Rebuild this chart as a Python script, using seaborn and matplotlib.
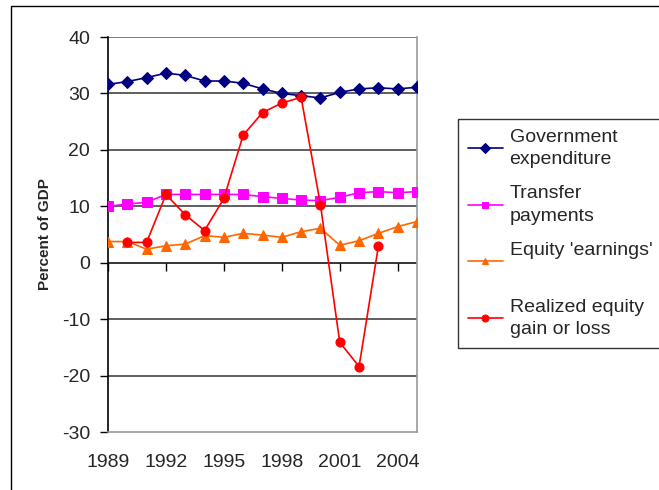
import numpy as np
import pandas as pd
import matplotlib
matplotlib.use("Agg")
import matplotlib.pyplot as plt
import seaborn as sns
from matplotlib.patches import Rectangle

years = list(range(1989, 2006))
gov_exp = [31.6, 32.1, 32.8, 33.6, 33.2, 32.2, 32.2, 31.8, 30.8, 30.0, 29.6, 29.2, 30.2, 30.8, 31.0, 30.8, 31.1]
transfers = [10.0, 10.4, 10.7, 12.1, 12.1, 12.1, 12.1, 12.1, 11.7, 11.4, 11.1, 11.0, 11.6, 12.4, 12.6, 12.4, 12.6]
equity_earn = [3.75, 3.75, 2.4, 3.0, 3.3, 4.8, 4.5, 5.2, 4.9, 4.5, 5.5, 6.1, 3.1, 3.9, 5.2, 6.4, 7.3]
realized = [np.nan, 3.6, 3.6, 12.1, 8.5, 5.7, 11.4, 22.6, 26.6, 28.3, 29.3, 10.3, -14.1, -18.4, 2.9, np.nan, np.nan]
labels = ["Government\nexpenditure", "Transfer\npayments", "Equity 'earnings'\n ", "Realized equity\ngain or loss"]
xticks = [1989, 1992, 1995, 1998, 2001, 2004]
yticks = [-30, -20, -10, 0, 10, 20, 30, 40]

sns.set_style("white")
plt.rcParams['font.family'] = ['Liberation Sans', 'DejaVu Sans']
plt.rcParams['axes.unicode_minus'] = False

fig = plt.figure(figsize=(6.59, 4.90), dpi=100)
ax = fig.add_axes([108/659, 1-432/490, (417-108)/659, (432-37)/490])

series = [gov_exp, transfers, equity_earn, realized]
colors = ["#000080", "#FF00FF", "#FF6600", "#FF0000"]
markers = ["D", "s", "^", "o"]
msizes = [6.5, 6.5, 7.5, 6.5]

for vals, lab, c, m, ms in zip(series, labels, colors, markers, msizes):
    df = pd.DataFrame({"year": years, "value": vals}).dropna()
    sns.lineplot(data=df, x="year", y="value", ax=ax, color=c, marker=m,
                 markersize=ms, markeredgecolor=c, linewidth=1.2, label=lab,
                 legend=False, zorder=3)

ax.set_xlim(1989, 2005)
ax.set_ylim(-30, 40)
ax.set_yticks(yticks)
ax.set_xticks(xticks)
ax.tick_params(axis='y', direction='out', length=6, width=1, color='black',
               labelsize=14, pad=7, left=True)
ax.tick_params(axis='x', length=0, labelsize=14, pad=16)
for y in yticks:
    if y in (-30, 40):
        continue
    ax.axhline(y, color='black' if y == 0 else '#333333', lw=1.1, zorder=1)
ax.axhline(40, color='#555555', lw=1.1, zorder=1)
ax.spines['top'].set_visible(False)
ax.spines['right'].set_color('#9a9a9a')
ax.spines['bottom'].set_color('#9a9a9a')
ax.spines['left'].set_color('black')
for s in ax.spines.values():
    s.set_linewidth(1.2)

sec = ax.secondary_xaxis(30/70)
sec.set_xticks(xticks)
sec.tick_params(axis='x', direction='out', length=6, width=1, color='black', labelbottom=False, labeltop=False)
sec.spines['bottom'].set_visible(False)
sec.spines['top'].set_visible(False)

ax.set_xlabel("")
ax.set_ylabel("Percent of GDP", fontsize=11, fontweight='bold', labelpad=7)

handles, labs = ax.get_legend_handles_labels()
leg = fig.legend(handles, labels, loc='upper left', bbox_to_anchor=(458/659, 1-119/490),
                 frameon=True, fancybox=False, edgecolor='black', fontsize=14,
                 handlelength=1.8, handletextpad=0.35, borderpad=0.5, labelspacing=0.9,
                 borderaxespad=0)
leg.get_frame().set_linewidth(1.0)
for t in leg.get_texts():
    t.set_linespacing(1.4)
for h in leg.legend_handles:
    h.set_markersize(5)

fig.patches.append(Rectangle((11/659, -0.1), 1.2, 0.1 + 1-6/490, transform=fig.transFigure,
                             fill=False, edgecolor='black', lw=1.0))

fig.savefig("out.png", dpi=100)
